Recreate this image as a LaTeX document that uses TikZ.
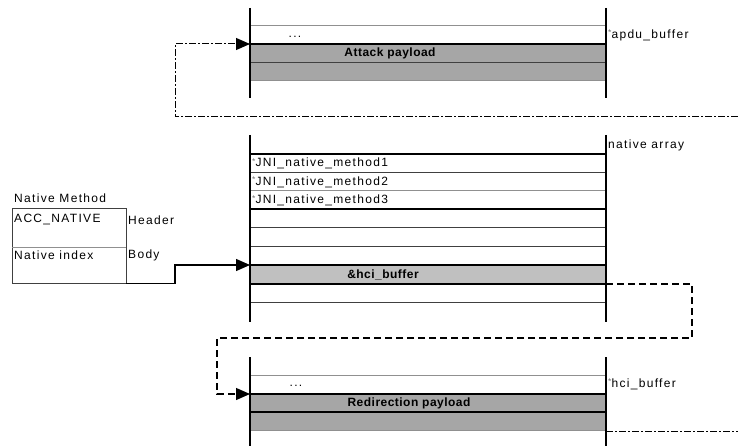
\documentclass[tikz,border=0pt]{standalone}
\usepackage{fontspec}
\setmainfont{Liberation Sans}
\newfontfamily\lblfont{Liberation Sans}[LetterSpace=11]
\newfontfamily\blblfont{Liberation Sans}[LetterSpace=4]
\usetikzlibrary{arrows.meta}
\definecolor{fillA}{HTML}{A6A6A6}
\definecolor{fillB}{HTML}{C0C0C0}
\definecolor{thinG}{HTML}{909090}
\definecolor{midG}{HTML}{404040}
\newcommand{\stmark}{\raisebox{2.5pt}{\color{black!55}\fontsize{8.5}{8.5}\selectfont *}}
\begin{document}
\begin{tikzpicture}[x=1pt,y=-1pt,
  txt/.style={font=\lblfont\fontsize{12}{14}\selectfont, inner sep=0pt},
  btxt/.style={font=\blblfont\bfseries\fontsize{12}{14}\selectfont, inner sep=0pt},
  vline/.style={line width=2.4pt},
  boldrule/.style={line width=2pt},
  darkrule/.style={line width=1pt, draw=midG},
  thinrule/.style={line width=1pt, draw=thinG},
  dashdotline/.style={line width=1pt, dash pattern=on 7pt off 2pt on 2pt off 2pt},
  dashline/.style={line width=1.2pt, dash pattern=on 7pt off 4pt},
  tip/.style={-{Triangle[length=14pt,width=12pt]}}
]
\useasboundingbox (0,0) rectangle (738,446);

% ---------- top block (apdu_buffer) ----------
\fill[fillA] (250,44) rectangle (606,81);
\draw[thinrule] (250,26) -- (606,26);
\draw[boldrule] (250,44) -- (606,44);
\draw[darkrule] (250,63) -- (606,63);
\draw[thinrule] (250,81) -- (606,81);
\draw[vline] (250,8) -- (250,98);
\draw[vline] (606,8) -- (606,98);
\coordinate (apduIn) at (250,44);
\node[txt] (dots1) at (295,37) {...};
\node[btxt] (attack) at (390,53) {Attack payload};
\node[txt, anchor=west] (apdu) at (608,35) {\stmark apdu\_buffer};

% ---------- middle block (native array) ----------
\fill[fillB] (250,265) rectangle (606,284);
\draw[boldrule] (250,154) -- (606,154);
\draw[darkrule] (250,172.7) -- (606,172.7);
\draw[thinrule] (250,191) -- (606,191);
\draw[boldrule] (250,209) -- (606,209);
\draw[darkrule] (250,228) -- (606,228);
\draw[darkrule] (250,246.7) -- (606,246.7);
\draw[boldrule] (250,265) -- (606,265);
\draw[boldrule] (250,284) -- (606,284);
\draw[darkrule] (250,302) -- (606,302);
\draw[vline] (250,135) -- (250,322);
\draw[vline] (606,135) -- (606,322);
\coordinate (hciIn) at (250,265);
\coordinate (hciOut) at (606,284);
\node[txt, anchor=west] (nat) at (608,145) {native array};
\node[txt, anchor=west] (m1) at (252,163.5) {\stmark JNI\_native\_method1};
\node[txt, anchor=west] (m2) at (252,182) {\stmark JNI\_native\_method2};
\node[txt, anchor=west] (m3) at (252,200.5) {\stmark JNI\_native\_method3};
\node[btxt] (hciref) at (383,275) {\&hci\_buffer};

% ---------- bottom block (hci_buffer) ----------
\fill[fillA] (250,394) rectangle (606,431);
\draw[thinrule] (250,375.7) -- (606,375.7);
\draw[boldrule] (250,394) -- (606,394);
\draw[boldrule] (250,412) -- (606,412);
\draw[thinrule] (250,430.7) -- (606,430.7);
\draw[vline] (250,357) -- (250,446);
\draw[vline] (606,357) -- (606,446);
\coordinate (redIn) at (250,394);
\coordinate (redOut) at (606,431);
\node[txt] (dots2) at (296,386) {...};
\node[btxt] (redir) at (409,403) {Redirection payload};
\node[txt, anchor=west] (hcib) at (608,384) {\stmark hci\_buffer};

% ---------- native method table ----------
\node[txt, anchor=west] (nmt) at (14,198) {Native Method};
\draw[line width=1pt, draw=midG] (12,209) rectangle (126,283.5);
\draw[line width=1pt, draw=thinG] (12,247.5) -- (126,247.5);
\coordinate (tblOut) at (126,283.5);
\node[txt, anchor=west] (acc) at (14,220) {ACC\_NATIVE};
\node[txt, anchor=west] (hdr) at (128,220) {Header};
\node[txt, anchor=west] (nidx) at (14,255.5) {Native index};
\node[txt, anchor=west] (body) at (128,255.5) {Body};

% ---------- connectors ----------
\coordinate (topFree) at (738,117);
\coordinate (topBend) at (175,44);
\draw[dashdotline, tip] (topFree) -| (topBend) -- (apduIn);

\coordinate (bodyBend) at (175,265);
\draw[line width=1.2pt, tip] (tblOut) -| (bodyBend) -- (hciIn);

\coordinate (midA) at (692,338);
\coordinate (midB) at (217,394);
\draw[dashline, tip] (hciOut) -| (midA) -| (midB) -- (redIn);

\coordinate (botFree) at (738,431);
\draw[dashdotline] (redOut) -- (botFree);
\end{tikzpicture}
\end{document}
